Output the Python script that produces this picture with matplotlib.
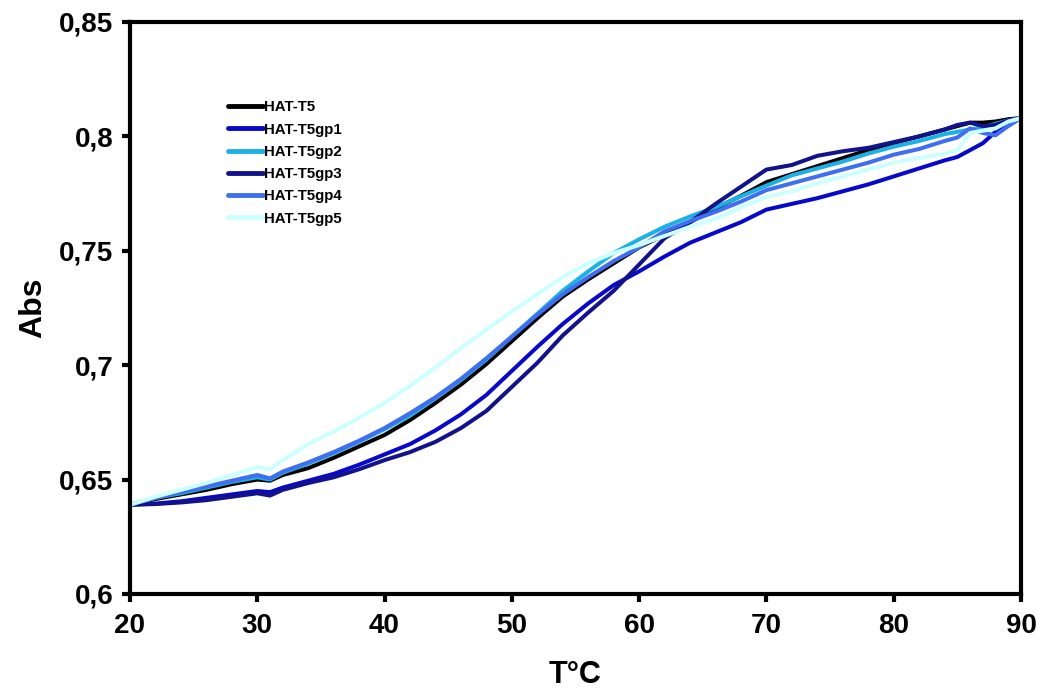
import numpy as np
import matplotlib
matplotlib.use('Agg')
import matplotlib.pyplot as plt

plt.rcParams['font.family'] = ['Liberation Sans', 'DejaVu Sans']
plt.rcParams['font.weight'] = 'bold'

# temperatures (°C)
temp = [20, 22, 24, 26, 28, 30, 31, 32, 34, 36, 38, 40, 42, 44, 46, 48, 50, 52, 54, 56,
        58, 60, 62, 64, 66, 68, 70, 72, 74, 76, 78, 80, 82, 84, 85, 86, 87, 88, 89, 90]

# absorbance for each construct
hat_t5 = [0.639, 0.6415, 0.6435, 0.6455, 0.648, 0.650, 0.6495, 0.652, 0.655, 0.6595,
          0.6645, 0.6695, 0.676, 0.6835, 0.6915, 0.7005, 0.7105, 0.7205, 0.730, 0.7375,
          0.7445, 0.7515, 0.757, 0.7625, 0.7685, 0.774, 0.780, 0.7835, 0.787, 0.7905,
          0.794, 0.797, 0.800, 0.803, 0.8045, 0.806, 0.806, 0.8065, 0.8075, 0.808]
hat_gp1 = [0.639, 0.6395, 0.6405, 0.642, 0.6435, 0.645, 0.6445, 0.6465, 0.6495, 0.6525,
           0.6565, 0.661, 0.6655, 0.6715, 0.6785, 0.687, 0.6975, 0.708, 0.718, 0.727,
           0.735, 0.741, 0.7475, 0.7535, 0.758, 0.7625, 0.768, 0.7705, 0.773, 0.776,
           0.779, 0.7825, 0.786, 0.7895, 0.791, 0.794, 0.797, 0.802, 0.806, 0.808]
hat_gp2 = [0.639, 0.642, 0.644, 0.6465, 0.649, 0.651, 0.650, 0.653, 0.657, 0.6615,
           0.6665, 0.672, 0.678, 0.6855, 0.6935, 0.7025, 0.7125, 0.7225, 0.7325, 0.741,
           0.749, 0.755, 0.7605, 0.765, 0.769, 0.7738, 0.7785, 0.783, 0.786, 0.789,
           0.7925, 0.7955, 0.798, 0.801, 0.802, 0.803, 0.804, 0.8055, 0.807, 0.808]
hat_gp3 = [0.639, 0.6393, 0.640, 0.641, 0.6425, 0.644, 0.643, 0.6455, 0.6485, 0.651,
           0.6545, 0.6585, 0.662, 0.6665, 0.6725, 0.680, 0.6905, 0.701, 0.713, 0.723,
           0.7325, 0.744, 0.7555, 0.7625, 0.7705, 0.778, 0.7855, 0.7875, 0.7915, 0.7935,
           0.795, 0.7975, 0.800, 0.803, 0.805, 0.806, 0.8045, 0.805, 0.807, 0.808]
hat_gp4 = [0.639, 0.642, 0.6445, 0.647, 0.6495, 0.652, 0.6505, 0.6535, 0.6575, 0.662,
           0.667, 0.6725, 0.679, 0.686, 0.694, 0.703, 0.7125, 0.722, 0.731, 0.7385,
           0.7455, 0.7515, 0.7585, 0.763, 0.767, 0.7715, 0.7765, 0.7795, 0.7825, 0.7855,
           0.7885, 0.792, 0.7945, 0.798, 0.7995, 0.8035, 0.8015, 0.8005, 0.8045, 0.808]
hat_gp5 = [0.639, 0.6425, 0.6455, 0.6485, 0.652, 0.6555, 0.6545, 0.6585, 0.6655, 0.671,
           0.677, 0.6835, 0.691, 0.699, 0.7075, 0.7155, 0.7235, 0.731, 0.7385, 0.7445,
           0.749, 0.7525, 0.7565, 0.7605, 0.764, 0.769, 0.7735, 0.776, 0.7795, 0.7825,
           0.7855, 0.7885, 0.7905, 0.7925, 0.794, 0.8015, 0.8025, 0.8035, 0.8065, 0.808]

series = [hat_t5, hat_gp1, hat_gp2, hat_gp3, hat_gp4, hat_gp5]
names = ['HAT-T5', 'HAT-T5gp1', 'HAT-T5gp2', 'HAT-T5gp3', 'HAT-T5gp4', 'HAT-T5gp5']
colors = ['#000000', '#0808CC', '#1CB0E6', '#12128A', '#3F6EF0', '#CCFFFF']

xticks = [20, 30, 40, 50, 60, 70, 80, 90]
yticks = [0.6, 0.65, 0.7, 0.75, 0.8, 0.85]
ytick_labels = ['0,6', '0,65', '0,7', '0,75', '0,8', '0,85']

fig = plt.figure(figsize=(10.4, 6.96), dpi=100)
ax = fig.add_axes([0.125, 0.1466, 0.8567, 0.8218])

for vals, name, col in zip(series, names, colors):
    ax.plot(temp, vals, color=col, linewidth=2.9, label=name,
            solid_capstyle='round', solid_joinstyle='round')

ax.set_xlim(20, 90)
ax.set_ylim(0.6, 0.85)
ax.set_xticks(xticks)
ax.set_yticks(yticks)
ax.set_yticklabels(ytick_labels)

for s in ax.spines.values():
    s.set_linewidth(3)
ax.tick_params(direction='out', length=6, width=3, labelsize=20, pad=8)
ax.tick_params(axis='y', pad=6)

ax.set_xlabel('T°C', fontsize=22, fontweight='bold', labelpad=15)
ax.set_ylabel('Abs', fontsize=23, fontweight='bold', labelpad=8)

leg = ax.legend(loc='upper left', bbox_to_anchor=(0.11, 0.863), frameon=False,
                prop={'size': 10.8, 'weight': 'bold'}, handlelength=2.3,
                handletextpad=0.1, labelspacing=0.55, borderpad=0, borderaxespad=0)
for line in leg.get_lines():
    line.set_linewidth(3.5)

plt.savefig('out.png', dpi=100)
